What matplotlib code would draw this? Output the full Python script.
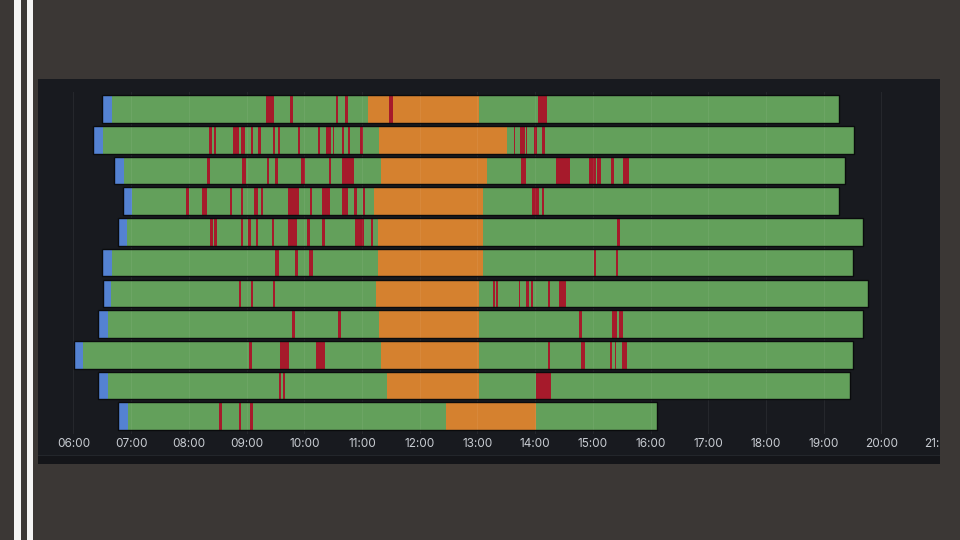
import matplotlib
matplotlib.use("Agg")
import matplotlib.pyplot as plt
from matplotlib.patches import Rectangle

# ---------------- data (hours of day) ----------------
hours = list(range(6, 22))
tick_labels = [f"{h:02d}:00" for h in hours]

row_start   = [6.50, 6.34, 6.70, 6.85, 6.78, 6.50, 6.51, 6.43, 6.01, 6.43, 6.78]
login_end   = [6.67, 6.51, 6.88, 7.01, 6.92, 6.67, 6.65, 6.60, 6.16, 6.60, 6.95]
lunch_start = [11.11, 11.30, 11.33, 11.20, 11.27, 11.28, 11.25, 11.30, 11.33, 11.44, 12.45]
lunch_end   = [13.02, 13.51, 13.17, 13.09, 13.09, 13.09, 13.02, 13.02, 13.02, 13.02, 14.02]
row_end     = [19.27, 19.53, 19.37, 19.27, 19.69, 19.51, 19.77, 19.69, 19.51, 19.45, 16.11]

alerts_r1 = [(9.34, 9.42), (9.43, 9.48), (9.76, 9.80), (10.55, 10.58), (10.71, 10.75),
             (11.46, 11.53), (14.05, 14.20)]
alerts_r2 = [(8.35, 8.40), (8.44, 8.47), (8.76, 8.87), (8.90, 8.97), (9.07, 9.11),
             (9.20, 9.25), (9.46, 9.50), (9.54, 9.58), (9.89, 9.93), (10.24, 10.27),
             (10.37, 10.47), (10.50, 10.52), (10.65, 10.69), (10.76, 10.79), (10.97, 11.01),
             (13.63, 13.66), (13.74, 13.82), (13.84, 13.86), (13.98, 14.03), (14.12, 14.17)]
alerts_r3 = [(8.32, 8.37), (8.92, 8.99), (9.35, 9.39), (9.50, 9.54), (9.95, 10.02),
             (10.42, 10.46), (10.65, 10.68), (10.69, 10.86), (13.75, 13.80), (13.81, 13.85),
             (14.36, 14.60), (14.93, 15.05), (15.07, 15.10), (15.11, 15.14), (15.32, 15.36),
             (15.52, 15.63)]
alerts_r4 = [(7.95, 8.01), (8.23, 8.31), (8.71, 8.75), (8.90, 8.94), (9.12, 9.19),
             (9.25, 9.29), (9.72, 9.90), (10.10, 10.14), (10.31, 10.45), (10.65, 10.75),
             (10.87, 10.91), (11.02, 11.06), (13.95, 14.06), (14.12, 14.15)]
alerts_r5 = [(8.37, 8.41), (8.44, 8.48), (8.90, 8.94), (9.02, 9.07), (9.16, 9.20),
             (9.44, 9.48), (9.72, 9.88), (10.05, 10.10), (10.31, 10.36), (10.88, 11.03),
             (11.15, 11.19), (15.42, 15.48)]
alerts_r6 = [(9.49, 9.56), (9.84, 9.89), (10.09, 10.15), (15.02, 15.06), (15.40, 15.44)]
alerts_r7 = [(8.87, 8.90), (9.07, 9.11), (9.45, 9.49), (13.27, 13.30), (13.33, 13.36),
             (13.72, 13.74), (13.85, 13.89), (13.93, 13.96), (14.22, 14.25), (14.41, 14.53)]
alerts_r8 = [(9.79, 9.84), (10.59, 10.63), (14.76, 14.81), (15.34, 15.42), (15.45, 15.52)]
alerts_r9 = [(9.05, 9.09), (9.58, 9.74), (10.20, 10.36), (14.22, 14.26), (14.80, 14.86),
             (15.30, 15.34), (15.39, 15.41), (15.51, 15.59)]
alerts_r10 = [(9.57, 9.60), (9.63, 9.66), (14.01, 14.27)]
alerts_r11 = [(8.53, 8.57), (8.87, 8.90), (9.06, 9.11)]

alerts = [alerts_r1, alerts_r2, alerts_r3, alerts_r4, alerts_r5, alerts_r6,
          alerts_r7, alerts_r8, alerts_r9, alerts_r10, alerts_r11]

# ---------------- style ----------------
SLIDE = "#3b3735"
PANEL = "#181a1f"
GREEN = "#63a05b"
RED = "#a61a2b"
ORANGE = "#d5812f"
BLUE = "#5482d2"
EDGE = "#0a0b0d"
TXT = "#c8ccd2"

W, H = 960, 540
fig = plt.figure(figsize=(9.6, 5.4), dpi=100, facecolor=SLIDE)

def fig_rect(x0, y0, x1, y1, color, z):
    fig.add_artist(Rectangle((x0 / W, 1 - y1 / H), (x1 - x0) / W, (y1 - y0) / H,
                             transform=fig.transFigure, facecolor=color,
                             edgecolor="none", zorder=z))

# slide decorations
fig_rect(14, 0, 20.5, 540, "#f4f4f4", -2)
fig_rect(26.5, 0, 33, 540, "#f4f4f4", -2)
# panel
fig_rect(38, 79, 940, 464, PANEL, -1)
fig_rect(38, 455, 940, 456, "#23262b", -1)
fig_rect(38, 456, 940, 464, "#141519", -1)

# axes (x 40..940 px, y 92..434 px)
ax = fig.add_axes([40 / W, 1 - 434 / H, 900 / W, 342 / H])
ax.set_facecolor("none")
ax.set_xlim(5.42, 21.017)
ax.set_ylim(10.576, -0.553)

bh = 0.9
for i in range(len(row_start)):
    y0 = i - bh / 2
    ax.broken_barh([(login_end[i], row_end[i] - login_end[i])], (y0, bh),
                   facecolors=GREEN, edgecolor="none", zorder=2)
    ax.broken_barh([(row_start[i], login_end[i] - row_start[i])], (y0, bh),
                   facecolors=BLUE, edgecolor="none", zorder=2)
    ax.broken_barh([(lunch_start[i], lunch_end[i] - lunch_start[i])], (y0, bh),
                   facecolors=ORANGE, edgecolor="none", zorder=3)
    ax.broken_barh([(a, b - a) for a, b in alerts[i]], (y0, bh),
                   facecolors=RED, edgecolor="none", zorder=4)
    ax.add_patch(Rectangle((row_start[i], y0), row_end[i] - row_start[i], bh,
                           fill=False, edgecolor=EDGE, linewidth=1.0, zorder=6))

for h in hours[:-1]:
    ax.axvline(h, color="white", alpha=0.06, linewidth=0.8, zorder=5)

ax.set_xticks(hours)
ax.set_xticklabels(tick_labels, fontfamily="Inter", fontsize=8.5, color=TXT)
ax.tick_params(axis="x", length=0, pad=3)
ax.set_yticks([])
for s in ax.spines.values():
    s.set_visible(False)

# slide background to the right of the panel (clips the last tick label)
fig_rect(940, 0, 960, 540, SLIDE, 10)

fig.savefig("out.png", dpi=100, facecolor=SLIDE)
